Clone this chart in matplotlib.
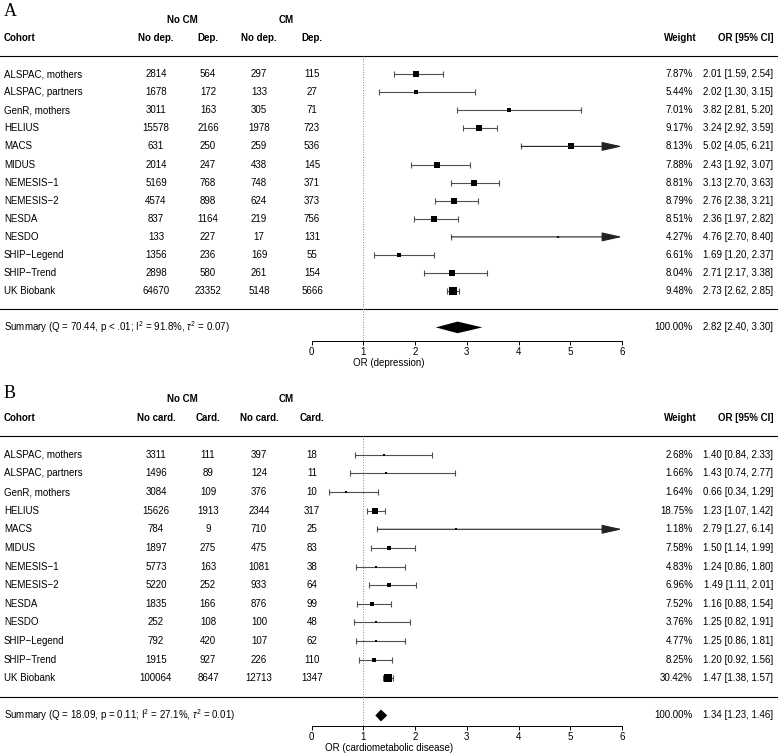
import matplotlib
matplotlib.use("Agg")
from matplotlib import pyplot as plt
from matplotlib import transforms
import numpy as np

plt.rcParams['font.family'] = ['Liberation Sans', 'DejaVu Sans']
plt.rcParams['mathtext.fontset'] = 'custom'
plt.rcParams['mathtext.rm'] = 'Liberation Sans'
plt.rcParams['mathtext.it'] = 'Liberation Sans:italic'
plt.rcParams['mathtext.bf'] = 'Liberation Sans:bold'

cohorts = ["ALSPAC, mothers", "ALSPAC, partners", "GenR, mothers", "HELIUS", "MACS",
           "MIDUS", "NEMESIS\u22121", "NEMESIS\u22122", "NESDA", "NESDO",
           "SHIP\u2212Legend", "SHIP\u2212Trend", "UK Biobank"]

# panel A: depression
dep_heads = ["No dep.", "Dep.", "No dep.", "Dep."]
dep_nocm_no = [2814, 1678, 3011, 15578, 631, 2014, 5169, 4574, 837, 133, 1356, 2898, 64670]
dep_nocm_yes = [564, 172, 163, 2166, 250, 247, 768, 898, 1164, 227, 236, 580, 23352]
dep_cm_no = [297, 133, 305, 1978, 259, 438, 748, 624, 219, 17, 169, 261, 5148]
dep_cm_yes = [115, 27, 71, 723, 536, 145, 371, 373, 756, 131, 55, 154, 5666]
dep_weight = [7.87, 5.44, 7.01, 9.17, 8.13, 7.88, 8.81, 8.79, 8.51, 4.27, 6.61, 8.04, 9.48]
dep_or = [2.01, 2.02, 3.82, 3.24, 5.02, 2.43, 3.13, 2.76, 2.36, 4.76, 1.69, 2.71, 2.73]
dep_lo = [1.59, 1.30, 2.81, 2.92, 4.05, 1.92, 2.70, 2.38, 1.97, 2.70, 1.20, 2.17, 2.62]
dep_hi = [2.54, 3.15, 5.20, 3.59, 6.21, 3.07, 3.63, 3.21, 2.82, 8.40, 2.37, 3.38, 2.85]
dep_summary = [2.82, 2.40, 3.30]
dep_summary_label = r"Summary (Q = 70.44, p < .01; $\mathrm{I}^2$ = 91.8%, $\tau^2$ = 0.07)"

# panel B: cardiometabolic disease
card_heads = ["No card.", "Card.", "No card.", "Card."]
card_nocm_no = [3311, 1496, 3084, 15626, 784, 1897, 5773, 5220, 1835, 252, 792, 1915, 100064]
card_nocm_yes = [111, 89, 109, 1913, 9, 275, 163, 252, 166, 108, 420, 927, 8647]
card_cm_no = [397, 124, 376, 2344, 710, 475, 1081, 933, 876, 100, 107, 226, 12713]
card_cm_yes = [18, 11, 10, 317, 25, 83, 38, 64, 99, 48, 62, 110, 1347]
card_weight = [2.68, 1.66, 1.64, 18.75, 1.18, 7.58, 4.83, 6.96, 7.52, 3.76, 4.77, 8.25, 30.42]
card_or = [1.40, 1.43, 0.66, 1.23, 2.79, 1.50, 1.24, 1.49, 1.16, 1.25, 1.25, 1.20, 1.47]
card_lo = [0.84, 0.74, 0.34, 1.07, 1.27, 1.14, 0.86, 1.11, 0.88, 0.82, 0.86, 0.92, 1.38]
card_hi = [2.33, 2.77, 1.29, 1.42, 6.14, 1.99, 1.80, 2.01, 1.54, 1.91, 1.81, 1.56, 1.57]
card_summary = [1.34, 1.23, 1.46]
card_summary_label = r"Summary (Q = 18.09, p = 0.11; $\mathrm{I}^2$ = 27.1%, $\tau^2$ = 0.01)"

W, H = 778, 755
FS = 7
ci_col = "#505050"


def draw_panel(ax, heads, counts, weights, ors, los, his, summary, sum_label, xlabel, axis_y):
    n = len(cohorts)
    rows = np.arange(1, n + 1)
    tr = transforms.blended_transform_factory(ax.transAxes, ax.transData)
    px = lambda x: x / W

    ax.set_xlim(-311.7 / 51.72, (W - 311.7) / 51.72)
    for s in ["top", "left", "right"]:
        ax.spines[s].set_visible(False)
    ax.spines["bottom"].set_position(("data", axis_y))
    ax.spines["bottom"].set_bounds(0, 6)
    ax.spines["bottom"].set_linewidth(0.7)
    ax.set_xticks(range(7))
    ax.tick_params(axis="x", length=3, width=0.7, labelsize=FS, pad=1.5)
    ax.set_yticks([])
    ax.set_xlabel(xlabel, fontsize=FS, labelpad=0.5)
    ax.patch.set_visible(False)

    # headers
    ax.text(px(182), -2, "No CM", transform=tr, ha="center", va="center", fontsize=FS, fontweight="bold")
    ax.text(px(286), -2, "CM", transform=tr, ha="center", va="center", fontsize=FS, fontweight="bold")
    ax.text(px(4), -1, "Cohort", transform=tr, ha="left", va="center", fontsize=FS, fontweight="bold")
    col_x = [156, 208, 259, 312]
    for cx, h in zip(col_x, heads):
        ax.text(px(cx), -1, h, transform=tr, ha="center", va="center", fontsize=FS, fontweight="bold")
    ax.text(px(697), -1, "Weight", transform=tr, ha="right", va="center", fontsize=FS, fontweight="bold")
    ax.text(px(773), -1, "OR [95% CI]", transform=tr, ha="right", va="center", fontsize=FS, fontweight="bold")

    ax.axhline(0, color="black", lw=0.8)
    ax.axhline(14, color="black", lw=0.8)
    ax.vlines(1, 0, axis_y, colors="#808080", linestyles=":", lw=0.7)

    # table rows
    for i, r in enumerate(rows):
        ax.text(px(4), r, cohorts[i], transform=tr, ha="left", va="center", fontsize=FS)
        for cx, col in zip(col_x, counts):
            ax.text(px(cx), r, str(col[i]), transform=tr, ha="center", va="center", fontsize=FS)
        ax.text(px(693), r, "%.2f%%" % weights[i], transform=tr, ha="right", va="center", fontsize=FS)
        ax.text(px(773), r, "%.2f [%.2f, %.2f]" % (ors[i], los[i], his[i]), transform=tr,
                ha="right", va="center", fontsize=FS)

    # CIs, squares sized by weight
    w = np.array(weights)
    cex = 0.5 + (w - w.min()) / (w.max() - w.min())
    for i, r in enumerate(rows):
        if his[i] > 6:
            ax.annotate("", xy=(6, r), xytext=(los[i], r),
                        arrowprops=dict(arrowstyle="-|>,head_length=1.25,head_width=0.28",
                                        color="#222222", lw=0.8, shrinkA=0, shrinkB=0,
                                        mutation_scale=10))
            ax.plot([los[i]], [r], "|", color=ci_col, ms=4.5, mew=0.8)
        else:
            ax.hlines(r, los[i], his[i], colors=ci_col, lw=0.8)
            ax.plot([los[i], his[i]], [r, r], "|", color=ci_col, ms=4.5, mew=0.8)
        ax.plot([ors[i]], [r], "s", color="black", ms=4.8 * cex[i] * 0.72, mew=0)

    # summary
    est, lo, hi = summary
    ax.fill([lo, est, hi, est], [15, 15 - 0.32, 15, 15 + 0.32], color="black", lw=0)
    ax.text(px(4), 15, sum_label, transform=tr, ha="left", va="center", fontsize=FS)
    ax.text(px(693), 15, "100.00%", transform=tr, ha="right", va="center", fontsize=FS)
    ax.text(px(773), 15, "%.2f [%.2f, %.2f]" % (est, lo, hi), transform=tr,
            ha="right", va="center", fontsize=FS)


fig = plt.figure(figsize=(W / 100, H / 100), dpi=100)
half = 377
axA = fig.add_axes([0, (H - half) / H, 1, half / H])
axB = fig.add_axes([0, 0, 1, half / H])

# row k sits at pixel y0 + (k-1)*step within the figure
def set_rows(ax, top_px, bot_px, y0, step):
    ax.set_ylim(1 + (bot_px - y0) / step, 1 - (y0 - top_px) / step)

set_rows(axA, 0, half, 74, 18.1)
set_rows(axB, half, H, 454, 18.67)

draw_panel(axA, dep_heads, [dep_nocm_no, dep_nocm_yes, dep_cm_no, dep_cm_yes],
           dep_weight, dep_or, dep_lo, dep_hi, dep_summary, dep_summary_label,
           "OR (depression)", 15.75)
draw_panel(axB, card_heads, [card_nocm_no, card_nocm_yes, card_cm_no, card_cm_yes],
           card_weight, card_or, card_lo, card_hi, card_summary, card_summary_label,
           "OR (cardiometabolic disease)", 15.55)

fig.text(4 / W, 1 - 11 / H, "A", family="Liberation Serif", fontsize=13, ha="left", va="center")
fig.text(4 / W, 1 - 394 / H, "B", family="Liberation Serif", fontsize=13, ha="left", va="center")

fig.savefig("out.png", dpi=100)
